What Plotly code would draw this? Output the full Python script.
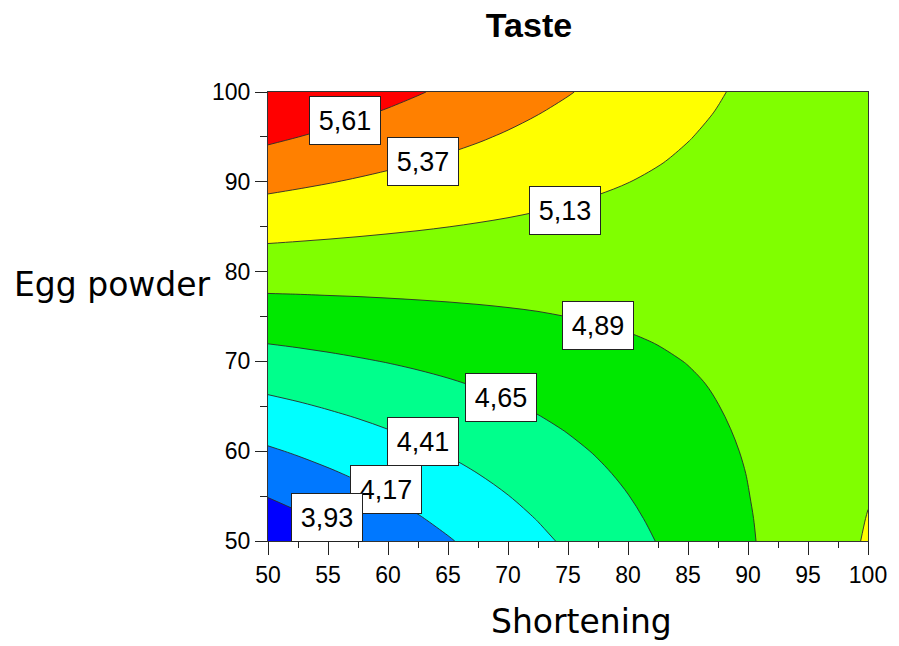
import plotly.graph_objects as go

# ---- data ----
shortening = [50, 52.5, 55, 57.5, 60, 62.5, 65, 67.5, 70, 72.5, 75,
              77.5, 80, 82.5, 85, 87.5, 90, 92.5, 95, 97.5, 100]
egg_powder = [50, 52.5, 55, 57.5, 60, 62.5, 65, 67.5, 70, 72.5, 75,
              77.5, 80, 82.5, 85, 87.5, 90, 92.5, 95, 97.5, 100]
# taste score, rows = egg powder (50 -> 100), columns = shortening (50 -> 100)
taste = [
    [3.730, 3.800, 3.870, 3.941, 4.012, 4.083, 4.154, 4.225, 4.296, 4.368, 4.440, 4.512, 4.584, 4.657, 4.730, 4.803, 4.870, 4.945, 5.022, 5.096, 5.141],
    [3.833, 3.897, 3.962, 4.026, 4.091, 4.156, 4.221, 4.286, 4.352, 4.417, 4.483, 4.549, 4.616, 4.682, 4.749, 4.814, 4.877, 4.947, 5.018, 5.085, 5.134],
    [3.937, 3.995, 4.053, 4.112, 4.171, 4.229, 4.288, 4.348, 4.407, 4.467, 4.527, 4.587, 4.647, 4.708, 4.767, 4.826, 4.886, 4.949, 5.013, 5.075, 5.124],
    [4.041, 4.093, 4.145, 4.198, 4.250, 4.303, 4.356, 4.410, 4.463, 4.517, 4.571, 4.625, 4.679, 4.734, 4.787, 4.840, 4.894, 4.952, 5.009, 5.065, 5.114],
    [4.145, 4.191, 4.238, 4.284, 4.331, 4.378, 4.425, 4.472, 4.520, 4.567, 4.615, 4.663, 4.712, 4.760, 4.809, 4.856, 4.904, 4.955, 5.006, 5.055, 5.105],
    [4.250, 4.290, 4.330, 4.371, 4.412, 4.453, 4.494, 4.535, 4.576, 4.618, 4.660, 4.702, 4.744, 4.787, 4.830, 4.872, 4.915, 4.959, 5.002, 5.046, 5.090],
    [4.355, 4.389, 4.424, 4.458, 4.493, 4.528, 4.563, 4.598, 4.634, 4.669, 4.705, 4.741, 4.778, 4.814, 4.851, 4.888, 4.925, 4.962, 5.000, 5.037, 5.075],
    [4.461, 4.489, 4.517, 4.546, 4.574, 4.603, 4.632, 4.662, 4.691, 4.721, 4.751, 4.781, 4.811, 4.842, 4.872, 4.903, 4.934, 4.966, 4.997, 5.029, 5.061],
    [4.567, 4.589, 4.611, 4.634, 4.656, 4.679, 4.702, 4.726, 4.749, 4.773, 4.797, 4.821, 4.845, 4.870, 4.894, 4.919, 4.944, 4.970, 4.995, 5.021, 5.047],
    [4.673, 4.689, 4.706, 4.722, 4.739, 4.756, 4.773, 4.790, 4.808, 4.825, 4.843, 4.861, 4.880, 4.898, 4.917, 4.936, 4.955, 4.974, 4.994, 5.013, 5.033],
    [4.780, 4.790, 4.800, 4.811, 4.822, 4.833, 4.844, 4.855, 4.866, 4.878, 4.891, 4.902, 4.914, 4.927, 4.940, 4.953, 4.966, 4.979, 4.992, 5.006, 5.020],
    [4.887, 4.891, 4.896, 4.900, 4.905, 4.910, 4.915, 4.920, 4.926, 4.931, 4.937, 4.943, 4.950, 4.956, 4.963, 4.970, 4.977, 4.984, 4.992, 4.999, 5.007],
    [4.995, 4.993, 4.991, 4.990, 4.988, 4.987, 4.986, 4.986, 4.985, 4.985, 4.985, 4.985, 4.985, 4.986, 4.986, 4.987, 4.988, 4.990, 4.991, 4.993, 4.995],
    [5.103, 5.095, 5.087, 5.080, 5.072, 5.065, 5.058, 5.052, 5.045, 5.039, 5.033, 5.027, 5.021, 5.016, 5.010, 5.005, 5.000, 4.996, 4.991, 4.987, 4.983],
    [5.211, 5.197, 5.184, 5.170, 5.157, 5.144, 5.131, 5.118, 5.106, 5.093, 5.081, 5.069, 5.058, 5.046, 5.035, 5.024, 5.013, 5.002, 4.992, 4.981, 4.971],
    [5.320, 5.300, 5.280, 5.261, 5.242, 5.223, 5.204, 5.185, 5.166, 5.148, 5.131, 5.112, 5.094, 5.077, 5.060, 5.043, 5.026, 5.009, 4.992, 4.976, 4.960],
    [5.429, 5.403, 5.378, 5.352, 5.327, 5.302, 5.277, 5.252, 5.228, 5.203, 5.179, 5.155, 5.132, 5.108, 5.085, 5.062, 5.039, 5.016, 4.994, 4.971, 4.949],
    [5.539, 5.507, 5.475, 5.444, 5.412, 5.381, 5.350, 5.320, 5.289, 5.259, 5.229, 5.199, 5.169, 5.140, 5.110, 5.081, 5.052, 5.024, 4.995, 4.967, 4.939],
    [5.649, 5.611, 5.573, 5.536, 5.498, 5.461, 5.424, 5.388, 5.351, 5.315, 5.279, 5.243, 5.207, 5.172, 5.136, 5.101, 5.066, 5.032, 4.997, 4.963, 4.929],
    [5.759, 5.715, 5.672, 5.628, 5.585, 5.542, 5.499, 5.456, 5.414, 5.371, 5.329, 5.287, 5.246, 5.204, 5.163, 5.122, 5.081, 5.040, 5.000, 4.959, 4.919],
    [5.870, 5.820, 5.770, 5.721, 5.672, 5.623, 5.574, 5.525, 5.476, 5.428, 5.380, 5.332, 5.284, 5.237, 5.190, 5.143, 5.096, 5.049, 5.002, 4.956, 4.910],
]
level_start = 3.93
level_end = 5.61
level_step = 0.24
level_labels = ["5,61", "5,37", "5,13", "4,89", "4,65", "4,41", "4,17", "3,93"]

# label box placement (layout, not data)
label_pos = [(56.4, 96.8), (62.9, 92.3), (74.75, 86.8), (77.5, 74.0),
             (69.45, 66.0), (62.9, 61.05), (59.8, 55.7), (54.9, 52.6)]

band_colors = [
    "rgb(0,0,255)", "rgb(0,120,255)", "rgb(0,255,255)", "rgb(0,255,140)",
    "rgb(0,232,0)", "rgb(128,255,0)", "rgb(255,255,0)", "rgb(255,128,0)",
    "rgb(255,0,0)",
]
bounds = [0.0, 0.11, 0.23, 0.35, 0.47, 0.59, 0.705, 0.822, 0.941, 1.0]
colorscale = []
for i, c in enumerate(band_colors):
    colorscale.append([bounds[i], c])
    colorscale.append([bounds[i + 1], c])

fig = go.Figure()
fig.add_trace(go.Contour(
    x=shortening, y=egg_powder, z=taste,
    autocontour=False,
    contours=dict(start=level_start, end=level_end, size=level_step,
                  coloring="fill", showlabels=False),
    colorscale=colorscale,
    line=dict(color="#2a2a2a", width=0.9, smoothing=1.0),
    showscale=False,
    hoverinfo="skip",
))

annotations = []
for txt, (ax, ay) in zip(level_labels, label_pos):
    annotations.append(dict(
        x=ax, y=ay, xref="x", yref="y", text=txt, showarrow=False,
        font=dict(family="Liberation Sans, Arial, sans-serif", size=27, color="black"),
        bgcolor="white", bordercolor="#222", borderwidth=1, borderpad=3,
        width=64, height=41, align="center", valign="middle",
    ))

annotations.append(dict(
    text="Egg powder", xref="paper", yref="paper", x=-0.4272, y=0.572,
    xanchor="left", yanchor="middle", showarrow=False,
    font=dict(family="DejaVu Sans, Verdana, sans-serif", size=33, color="black"),
))
annotations.append(dict(
    text="Shortening", xref="paper", yref="paper", x=0.523, y=-0.18,
    xanchor="center", yanchor="middle", showarrow=False,
    font=dict(family="DejaVu Sans, Verdana, sans-serif", size=33, color="black"),
))

tickfont = dict(family="Liberation Sans, Arial, sans-serif", size=23, color="black")

fig.update_layout(
    width=899, height=646,
    margin=dict(l=268, r=27, t=92, b=105),
    paper_bgcolor="white", plot_bgcolor="white",
    title=dict(text="<b>Taste</b>", x=529 / 899, xanchor="center",
               y=1 - 25 / 646, yanchor="middle",
               font=dict(family="Liberation Sans, Arial, sans-serif", size=34, color="black")),
    annotations=annotations,
    showlegend=False,
)
fig.update_xaxes(
    range=[50, 100], tick0=50, dtick=5, ticks="outside", ticklen=13, tickwidth=1,
    tickcolor="#222", showline=True, linecolor="#333", linewidth=1, mirror=True,
    showgrid=False, zeroline=False, tickfont=tickfont,
    minor=dict(dtick=2.5, ticks="outside", ticklen=6, tickcolor="#222", showgrid=False),
)
fig.update_yaxes(
    range=[50, 100], tick0=50, dtick=10, ticks="outside", ticklen=12, tickwidth=1,
    tickcolor="#222", showline=True, linecolor="#333", linewidth=1, mirror=True,
    showgrid=False, zeroline=False, tickfont=tickfont,
    minor=dict(dtick=5, ticks="outside", ticklen=7, tickcolor="#222", showgrid=False),
)

# remove the browser's default 8px body margin so the figure sits at the page origin
fig.write_html("out.html", config={"displayModeBar": False},
               post_script="document.body.style.margin='0';")
